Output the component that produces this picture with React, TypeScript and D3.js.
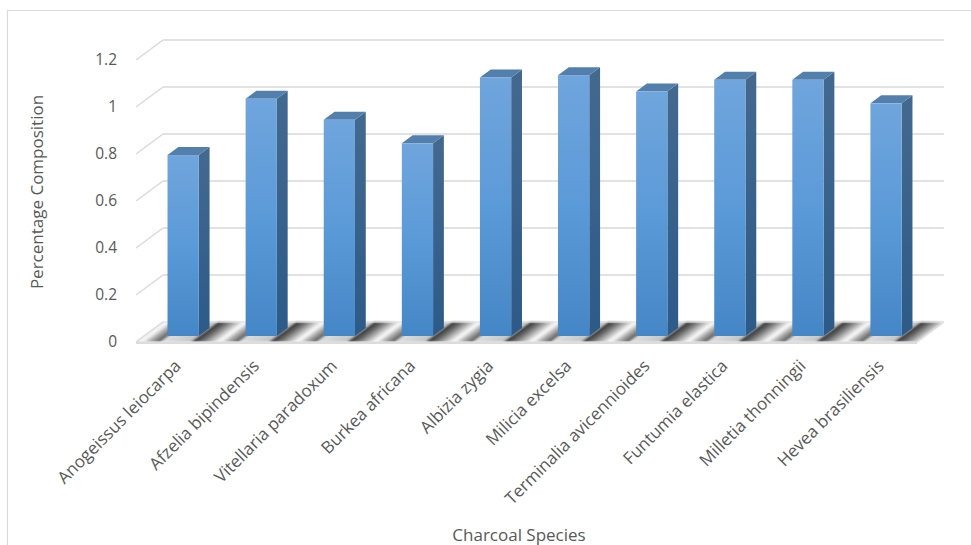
import React from "react";
import * as d3 from "d3";

// Charcoal species and their percentage composition
const species = [
  "Anogeissus leiocarpa",
  "Afzelia bipindensis",
  "Vitellaria paradoxum",
  "Burkea africana",
  "Albizia zygia",
  "Milicia excelsa",
  "Terminalia avicennioides",
  "Funtumia elastica",
  "Milletia thonningii",
  "Hevea brasiliensis",
];
const composition = [0.77, 1.01, 0.92, 0.82, 1.1, 1.11, 1.04, 1.09, 1.09, 0.99];
const yTicks = [0, 0.2, 0.4, 0.6, 0.8, 1, 1.2];

const W = 971;
const H = 545;
const FONT = "'Open Sans', sans-serif";
const TEXT = "#595959";

// oblique depth of the 3-D box
const DX = 27;
const DY = 20;
const T0 = 0.3; // bar front depth fraction
const T1 = 0.7; // bar back depth fraction

export default function App() {
  const x = d3
    .scaleBand<string>()
    .domain(species)
    .range([136, 917])
    .paddingInner(0.6)
    .paddingOuter(0.3);
  const y = d3.scaleLinear().domain([0, 1.2]).range([342, 60]);
  const step = x.step();
  const bw = x.bandwidth();
  const [fx0, fx1] = x.range();
  const y0 = y(0);

  const sx = DX * (T1 - T0);
  const sy = DY * (T1 - T0);
  const skew = (-Math.atan(DX / DY) * 180) / Math.PI;

  const patX = (x(species[0]) as number) + bw;

  return (
    <svg
      width={W}
      height={H}
      style={{ position: "absolute", left: 0, top: 0, background: "#fff" }}
      fontFamily={FONT}
    >
      <defs>
        <linearGradient id="frontFace" x1="0" y1="0" x2="0" y2="1">
          <stop offset="0" stopColor="#70a5dd" />
          <stop offset="0.5" stopColor="#5b9ad8" />
          <stop offset="1" stopColor="#4586c6" />
        </linearGradient>
        <linearGradient id="sideFace" x1="0" y1="0" x2="0" y2="1">
          <stop offset="0" stopColor="#44698f" />
          <stop offset="1" stopColor="#2d5a88" />
        </linearGradient>
        <linearGradient id="floorGrad" x1="0" y1="0" x2="1" y2="0">
          <stop offset="0" stopColor="#2f2f2f" />
          <stop offset="0.12" stopColor="#666666" />
          <stop offset="0.28" stopColor="#cdcdcd" />
          <stop offset="0.36" stopColor="#ffffff" />
          <stop offset="0.46" stopColor="#b0b0b0" />
          <stop offset="0.6" stopColor="#5a5a5a" />
          <stop offset="0.62" stopColor="#dedede" />
          <stop offset="1" stopColor="#c4c4c4" />
        </linearGradient>
        <pattern
          id="floorPat"
          patternUnits="userSpaceOnUse"
          width={step}
          height={200}
          patternTransform={`translate(${patX},${y0}) skewX(${skew})`}
        >
          <rect x={0} y={-100} width={step} height={300} fill="url(#floorGrad)" />
          <rect x={0} y={0} width={step} height={200} fill="url(#floorGrad)" />
        </pattern>
        <filter id="soft" x="-5%" y="-50%" width="110%" height="200%">
          <feGaussianBlur stdDeviation="1.2" />
        </filter>
      </defs>

      {/* chart frame */}
      <path d={`M7.5,${H} V10.5 H${W}`} fill="none" stroke="#d9d9d9" strokeWidth={1.2} />

      {/* gridlines: side wall diagonal + back wall */}
      {yTicks.map((t) => (
        <g key={`g${t}`} stroke="#d9d9d9" strokeWidth={1.5} fill="none">
          <line x1={fx0} y1={y(t)} x2={fx0 + DX} y2={y(t) - DY} />
          {t > 0 && <line x1={fx0 + DX} y1={y(t) - DY} x2={fx1 + DX} y2={y(t) - DY} />}
        </g>
      ))}

      {/* floor */}
      <polygon
        points={`${fx0},${y0} ${fx1},${y0} ${fx1 + DX},${y0 - DY} ${fx0 + DX},${y0 - DY}`}
        fill="url(#floorPat)"
        filter="url(#soft)"
      />
      <polygon
        points={`${fx0},${y0} ${fx1},${y0} ${fx1 + DX},${y0 - DY} ${fx0 + DX},${y0 - DY}`}
        fill="none"
        stroke="#dcdcdc"
        strokeWidth={1}
      />
      <line x1={fx0} y1={y0 + 1} x2={fx1} y2={y0 + 1} stroke="#dcdcdc" strokeWidth={2} />

      {/* bars */}
      {species.map((s, i) => {
        const v = composition[i];
        const xl = (x(s) as number) + DX * T0;
        const xr = xl + bw;
        const yb = y0 - DY * T0;
        const yt = y(v) - DY * T0;
        return (
          <g key={s}>
            <polygon
              points={`${xr},${yt} ${xr + sx},${yt - sy} ${xr + sx},${yb - sy} ${xr},${yb}`}
              fill="url(#sideFace)"
            />
            <polygon
              points={`${xl},${yt} ${xl + sx},${yt - sy} ${xr + sx},${yt - sy} ${xr},${yt}`}
              fill="#537fac"
            />
            <rect x={xl} y={yt} width={bw} height={yb - yt} fill="url(#frontFace)" />
          </g>
        );
      })}

      {/* y tick labels */}
      {yTicks.map((t) => (
        <text
          key={`t${t}`}
          x={117}
          y={y(t)}
          dy="0.35em"
          textAnchor="end"
          fontSize={15.5}
          fill={TEXT}
        >
          {d3.format("~g")(t)}
        </text>
      ))}

      {/* category labels */}
      {species.map((s) => {
        const cx = (x(s) as number) + bw / 2 + 7;
        const cy = 367;
        return (
          <text
            key={`l${s}`}
            transform={`translate(${cx},${cy}) rotate(-45)`}
            textAnchor="end"
            fontSize={17}
            fill={TEXT}
          >
            {s}
          </text>
        );
      })}

      {/* axis titles */}
      <text
        transform="translate(43,192) rotate(-90)"
        textAnchor="middle"
        fontSize={17}
        fill={TEXT}
      >
        Percentage Composition
      </text>
      <text x={519} y={541} textAnchor="middle" fontSize={17} fill={TEXT}>
        Charcoal Species
      </text>
    </svg>
  );
}
